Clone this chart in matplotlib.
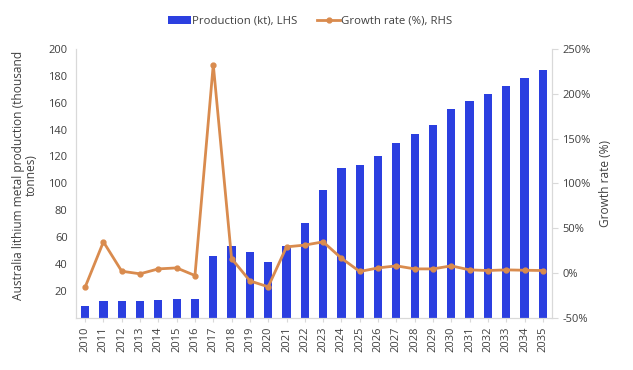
import numpy as np
import matplotlib as mpl
mpl.use('Agg')
import matplotlib.pyplot as plt
from matplotlib.ticker import FuncFormatter

years = [str(y) for y in range(2010, 2036)]
production = [8.9, 12.1, 12.4, 12.4, 12.9, 13.8, 13.6, 45.6, 53.1, 48.8, 41.4, 53.1, 70.2, 95.0,
              111.3, 113.4, 120.1, 129.8, 136.7, 143.2, 155.6, 161.3, 166.5, 172.7, 178.7, 184.4]
growth = [-16.0, 34.6, 1.8, -1.1, 4.4, 5.5, -3.0, 232.6, 16.0, -9.0, -15.6, 29.0, 31.0, 34.6,
          16.3, 1.5, 5.5, 7.8, 4.4, 4.4, 7.8, 3.3, 2.6, 3.3, 2.9, 2.6]

plt.rcParams['font.family'] = ['Open Sans', 'DejaVu Sans']
text_col = '#404040'
grid_col = '#d9d9d9'
bar_col = '#2b3fe0'
line_col = '#d98b4e'

fig = plt.figure(figsize=(6.33, 3.70), dpi=100)
ax = fig.add_axes([0.12, 0.1416, 0.752, 0.726])
x = np.arange(len(years))
b = ax.bar(x, production, width=0.45, color=bar_col, label='Production (kt), LHS', zorder=2)
ax.set_xlim(-0.5, len(years) - 0.5)
ax.set_ylim(0, 200)
ax.set_yticks(np.arange(20, 201, 20))
ax.set_xticks(x)
ax.set_xticklabels(years, rotation=90)
ax.set_ylabel('Australia lithium metal production (thousand\ntonnes)', color=text_col, fontsize=8.6,
              linespacing=1.0)
ax.yaxis.set_label_coords(-0.08, 0.53)

ax2 = ax.twinx()
l, = ax2.plot(x, growth, color=line_col, lw=2, marker='o', ms=3.5, label='Growth rate (%), RHS', zorder=3)
ax2.set_ylim(-50, 250)
ax2.set_yticks(np.arange(-50, 251, 50))
ax2.yaxis.set_major_formatter(FuncFormatter(lambda v, p: '%d%%' % v))
ax2.set_ylabel('Growth rate (%)', color=text_col, fontsize=8.6, labelpad=6)

for a in (ax, ax2):
    a.spines['top'].set_visible(False)
    for s in ('left', 'right', 'bottom'):
        a.spines[s].set_color(grid_col)
    a.tick_params(colors=text_col, labelsize=8)
ax.tick_params(axis='y', length=0, pad=6)
ax.tick_params(axis='x', length=3, color=grid_col)
ax2.tick_params(axis='y', length=4, color=grid_col)

fig.legend(handles=[b, l], loc='upper center', bbox_to_anchor=(0.49, 0.985), ncol=2, frameon=False,
           fontsize=8.2, handlelength=2.0, handletextpad=0.1, columnspacing=1.8, labelcolor=text_col)

fig.savefig('out.png', dpi=100)
